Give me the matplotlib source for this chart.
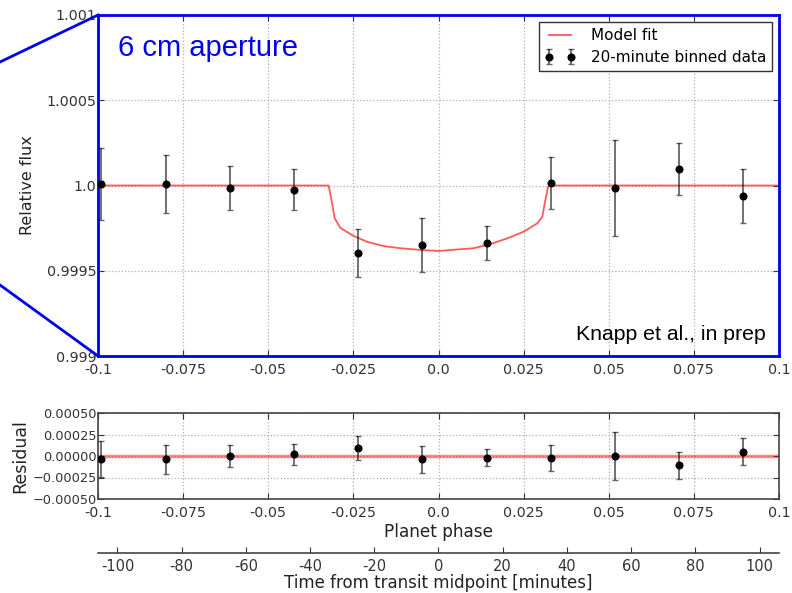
import matplotlib
matplotlib.use("Agg")
import matplotlib.pyplot as plt
from matplotlib.lines import Line2D

plt.rcParams.update({
    "font.family": "DejaVu Sans", "font.size": 10,
    "xtick.labelsize": 10.3, "ytick.labelsize": 10.3,
    "xtick.direction": "in", "ytick.direction": "in",
    "xtick.top": True, "ytick.right": True,
    "xtick.color": "#333333", "ytick.color": "#333333",
    "axes.unicode_minus": False,
})

PERIOD_MIN = 1060.6  # minutes per unit phase

# binned data, times from mid-transit (min)
t_min = [-105, -85, -65, -45, -25, -5, 15, 35, 55, 75, 95]
flux = [1.000009, 1.000010, 0.999985, 0.999974, 0.999604, 0.999651,
        0.999663, 1.000015, 0.999985, 1.000097, 0.999938]
flux_err = [0.00021, 0.00017, 0.000127, 0.00012, 0.00014, 0.00016,
            0.00010, 0.00015, 0.00028, 0.000155, 0.00016]
resid = [-0.000035, -0.00004, 0.0, 0.00002, 0.00009, -0.00004,
         -0.00002, -0.00002, 0.0, -0.00011, 0.00005]

# model fit
model_phase = [-0.1, -0.03226, -0.03126, -0.0305, -0.02882, -0.02491, -0.02097,
               -0.01618, -0.01118, -0.00529, 0.0, 0.010294, 0.0153, 0.0202,
               0.0251, 0.029, 0.0305, 0.0312, 0.03215, 0.0325, 0.1]
model_flux = [1.0, 1.0, 0.999897, 0.999808, 0.999751, 0.999704, 0.99967,
              0.999645, 0.999632, 0.999622, 0.999616, 0.999632, 0.999657,
              0.99969, 0.99973, 0.999778, 0.999817, 0.999896, 0.99999, 1.0, 1.0]

phase = [t / PERIOD_MIN for t in t_min]

phase_ticks = [-0.1, -0.075, -0.05, -0.025, 0.0, 0.025, 0.05, 0.075, 0.1]
phase_labels = ["-0.1", "-0.075", "-0.05", "-0.025", "0.0", "0.025", "0.05", "0.075", "0.1"]
flux_ticks = [0.999, 0.9995, 1.0, 1.0005, 1.001]
flux_labels = ["0.999", "0.9995", "1.0", "1.0005", "1.001"]
resid_ticks = [-0.0005, -0.00025, 0.0, 0.00025, 0.0005]
minute_ticks = [-100, -80, -60, -40, -20, 0, 20, 40, 60, 80, 100]

BLUE = "#0000ee"
INK = "#222222"
W, H = 792, 593
fig = plt.figure(figsize=(W / 100, H / 100), dpi=100)

L, R = 98 / W, 779 / W
ax = fig.add_axes([L, 1 - 356 / H, R - L, (356 - 15) / H])
axr = fig.add_axes([L, 1 - 499 / H, R - L, (499 - 413) / H])
axm = fig.add_axes([L, 1 - 553 / H, R - L, 0.0001])

grid_kw = dict(color="#b0b0b0", ls=":", lw=0.9)
eb_kw = dict(fmt="o", color="black", ms=4.8, ecolor=(0, 0, 0, 0.6),
             elinewidth=1.3, capsize=2.5, capthick=1)

ax.plot(model_phase, model_flux, color="red", alpha=0.65, lw=1.3, label="Model fit", zorder=2)
ax.errorbar(phase, flux, yerr=flux_err, label="20-minute binned data", zorder=3, **eb_kw)
ax.set_xlim(-0.1, 0.1)
ax.set_ylim(0.999, 1.001)
ax.set_xticks(phase_ticks)
ax.set_xticklabels(phase_labels)
ax.set_yticks(flux_ticks)
ax.set_yticklabels(flux_labels)
ax.set_ylabel("Relative flux", fontsize=11.5, color=INK, labelpad=8)
ax.grid(True, **grid_kw)
for s in ax.spines.values():
    s.set_color(BLUE)
    s.set_linewidth(2)
ax.tick_params(length=4, width=0.8)
ax.tick_params(axis="x", pad=5)
ax.tick_params(axis="y", pad=1)
leg = ax.legend(loc="upper right", numpoints=2, fontsize=11, fancybox=False,
                framealpha=1, edgecolor="#333333", borderaxespad=0.45,
                handlelength=2.0, handletextpad=1.0, borderpad=0.4, labelspacing=0.45)
leg.get_frame().set_linewidth(1.0)
ax.text(0.03, 0.88, "6 cm aperture", transform=ax.transAxes, color=BLUE,
        fontsize=21, family="Liberation Sans", ha="left", va="baseline")
ax.text(0.98, 0.035, "Knapp et al., in prep", transform=ax.transAxes, color="black",
        fontsize=15.3, family="Liberation Sans", ha="right", va="bottom")

axr.axhline(0, color="red", alpha=0.45, lw=2.5, zorder=2)
axr.errorbar(phase, resid, yerr=flux_err, zorder=3, **eb_kw)
axr.set_xlim(-0.1, 0.1)
axr.set_ylim(-0.0005, 0.0005)
axr.set_xticks(phase_ticks)
axr.set_xticklabels(phase_labels)
axr.set_yticks(resid_ticks)
axr.set_yticklabels([f"{v:.5f}".replace("-", "\u2212") for v in resid_ticks], fontsize=9.3)
axr.set_ylabel("Residual", fontsize=12.5, color=INK, labelpad=2)
axr.set_xlabel("Planet phase", fontsize=12.2, color=INK, labelpad=2)
axr.grid(True, **grid_kw)
for s in axr.spines.values():
    s.set_color("#444444")
    s.set_linewidth(1.2)
axr.tick_params(length=4, width=0.8)
axr.tick_params(axis="x", pad=5)
axr.tick_params(axis="y", pad=1)

axm.set_xlim(-0.1 * PERIOD_MIN, 0.1 * PERIOD_MIN)
axm.set_xticks(minute_ticks)
axm.set_yticks([])
for side in ["top", "left", "right"]:
    axm.spines[side].set_visible(False)
axm.spines["bottom"].set_color("#444444")
axm.spines["bottom"].set_linewidth(1.2)
axm.tick_params(axis="x", top=False, direction="in", length=4, width=0.8, pad=4,
                labelsize=10.5)
axm.set_xlabel("Time from transit midpoint [minutes]", fontsize=12, color=INK, labelpad=0)

# zoom lines leading into the top panel
fig.add_artist(Line2D([0, L], [1 - 62 / H, 1 - 15 / H], color=BLUE, lw=2,
                      transform=fig.transFigure))
fig.add_artist(Line2D([0, L], [1 - 285 / H, 1 - 356 / H], color=BLUE, lw=2,
                      transform=fig.transFigure))

fig.savefig("out.png", dpi=100)
